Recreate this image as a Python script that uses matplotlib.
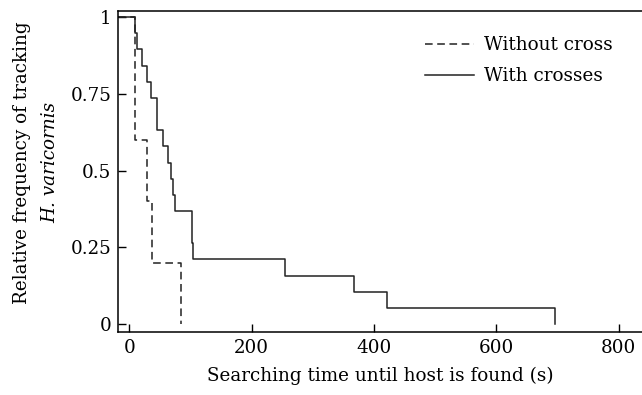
#!/usr/bin/env python3

import numpy as np
import matplotlib.pyplot as plt

plt.rcParams['font.family'] = 'DejaVu Serif'

# Kaplan-Meier style curves (time in s, relative frequency)
XMIN = -18
time_without = [XMIN, 10, 29, 37, 84]
freq_without = [1.0, 0.6, 0.4, 0.2, 0.0]

time_with = [XMIN, 10, 13, 21, 29, 36, 45, 55, 63, 68, 71, 75, 102, 105, 255, 367, 421, 696]
freq_with = [1.0, 0.947, 0.895, 0.842, 0.789, 0.737, 0.632, 0.579, 0.526, 0.474,
             0.421, 0.368, 0.263, 0.211, 0.158, 0.105, 0.053, 0.0]

xticks = [0, 200, 400, 600, 800]
yticks = [0, 0.25, 0.5, 0.75, 1]
yticklabels = ['0', '0.25', '0.5', '0.75', '1']

fs = 13.2

fig = plt.figure(figsize=(6.42, 3.95), dpi=100)
ax = fig.add_axes([0.184, 0.159, 0.816, 0.813])

ax.step(time_without, freq_without, where='post', color='#222222', lw=1.1,
        linestyle=(0, (5, 3)), label='Without cross')
ax.step(time_with, freq_with, where='post', color='#222222', lw=1.1,
        label='With crosses')

ax.set_xlim(XMIN, 838)
ax.set_ylim(-0.026, 1.02)
ax.set_xticks(xticks)
ax.set_yticks(yticks)
ax.set_yticklabels(yticklabels)
ax.tick_params(direction='in', length=6, width=1, labelsize=fs, pad=5)
ax.spines['right'].set_visible(False)
for s in ['left', 'top', 'bottom']:
    ax.spines[s].set_linewidth(1.1)

ax.set_xlabel('Searching time until host is found (s)', fontsize=fs, labelpad=7)
fig.text(0.035, 0.588, 'Relative frequency of tracking', rotation=90,
         ha='center', va='center', fontsize=fs)
fig.text(0.078, 0.588, 'H. varicornis', rotation=90, style='italic',
         ha='center', va='center', fontsize=fs)

ax.legend(loc='upper left', bbox_to_anchor=(0.586, 0.922), frameon=False,
          fontsize=fs, handlelength=2.65, handletextpad=0.55, labelspacing=0.7,
          borderpad=0, borderaxespad=0)

plt.savefig('out.png', dpi=100)
